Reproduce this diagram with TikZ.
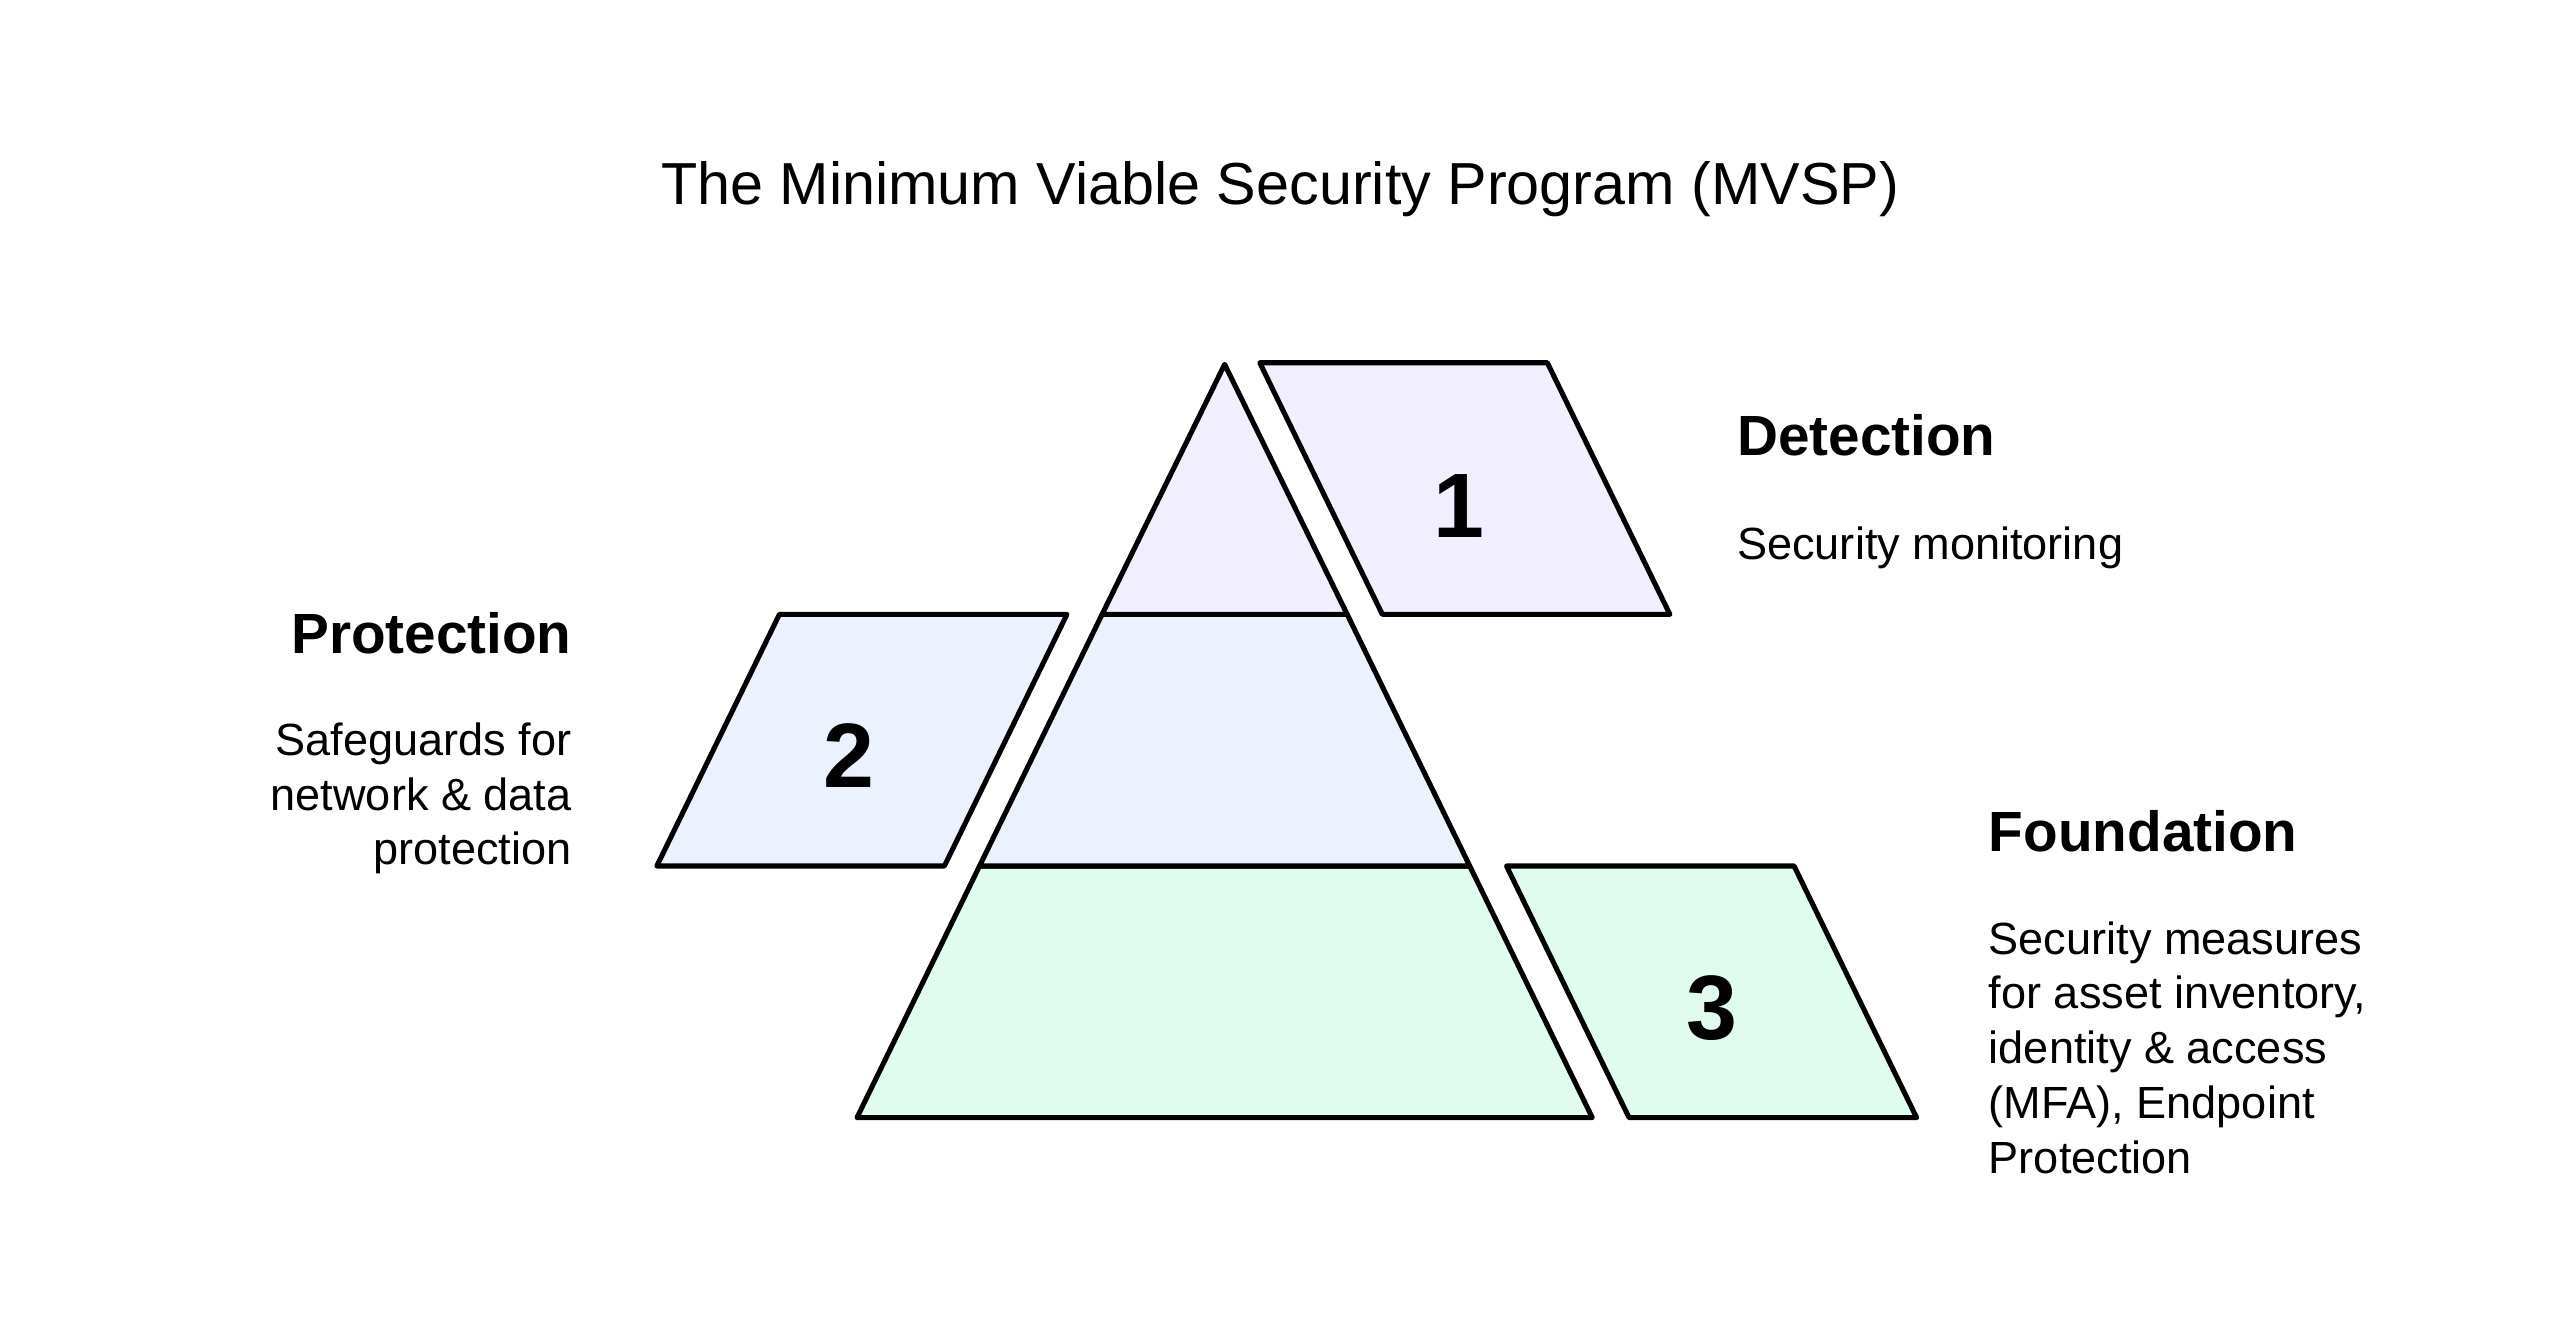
\documentclass[tikz,border=0pt]{standalone}
\usepackage{fontspec}
\setmainfont{Liberation Sans}
\definecolor{tierA}{HTML}{F1EFFE}
\definecolor{tierB}{HTML}{EBF2FE}
\definecolor{tierC}{HTML}{E0FCEE}
\begin{document}
\begin{tikzpicture}[x=1pt,y=-1pt,
  shapeline/.style={draw=black, line width=3.1pt, line join=round},
  titletext/.style={inner sep=0pt, font=\fontsize{36.3}{43}\selectfont},
  headtext/.style={inner sep=0pt, font=\fontsize{34.7}{40}\selectfont\bfseries},
  bodytext/.style={inner sep=0pt, font=\fontsize{27.6}{33}\selectfont},
  numtext/.style={inner sep=0pt, font=\fontsize{56}{60}\selectfont\bfseries}]
\useasboundingbox (0,0) rectangle (1568,819);
% pyramid
\coordinate (apex) at (749.5,223);
\coordinate (t1l) at (674.5,376); \coordinate (t1r) at (824.5,376);
\coordinate (t2l) at (599.5,530); \coordinate (t2r) at (899.5,530);
\coordinate (t3l) at (524.5,684); \coordinate (t3r) at (974.5,684);
\path[shapeline, fill=tierC] (t2l) -- (t2r) -- (t3r) -- (t3l) -- cycle;
\path[shapeline, fill=tierB] (t1l) -- (t1r) -- (t2r) -- (t2l) -- cycle;
\path[shapeline, fill=tierA] (apex) -- (t1r) -- (t1l) -- cycle;
% parallelograms
\path[shapeline, fill=tierA] (771,222) -- (947,222) -- (1022,376) -- (846,376) -- cycle;
\path[shapeline, fill=tierB] (477,376) -- (653,376) -- (578,530) -- (402,530) -- cycle;
\path[shapeline, fill=tierC] (922,530) -- (1098,530) -- (1173,684) -- (997,684) -- cycle;
% numbers
\node[numtext, anchor=base] (n1) at (893,329) {1};
\node[numtext, anchor=base] (n2) at (519.5,482) {2};
\node[numtext, anchor=base] (n3) at (1048,636) {3};
% title
\node[titletext, anchor=base] (title) at (783.5,125) {The Minimum Viable Security Program (MVSP)};
% detection
\node[headtext, anchor=base west] (dethead) at (1063,279) {Detection};
\node[bodytext, anchor=base west] (detbody) at (1063,342.5) {Security monitoring};
% protection
\node[headtext, anchor=base east] (prohead) at (350,400) {Protection};
\node[bodytext, anchor=base east] (probody1) at (350,462.5) {Safeguards for};
\node[bodytext, anchor=base east] (probody2) at (350,496) {network \& data};
\node[bodytext, anchor=base east] (probody3) at (350,529) {protection};
% foundation
\node[headtext, anchor=base west] (fouhead) at (1217,521) {Foundation};
\node[bodytext, anchor=base west] (foubody1) at (1217,584) {Security measures};
\node[bodytext, anchor=base west] (foubody2) at (1217,617.5) {for asset inventory,};
\node[bodytext, anchor=base west] (foubody3) at (1217,651) {identity \& access};
\node[bodytext, anchor=base west] (foubody4) at (1217,684.5) {(MFA), Endpoint};
\node[bodytext, anchor=base west] (foubody5) at (1217,718) {Protection};
\end{tikzpicture}
\end{document}
